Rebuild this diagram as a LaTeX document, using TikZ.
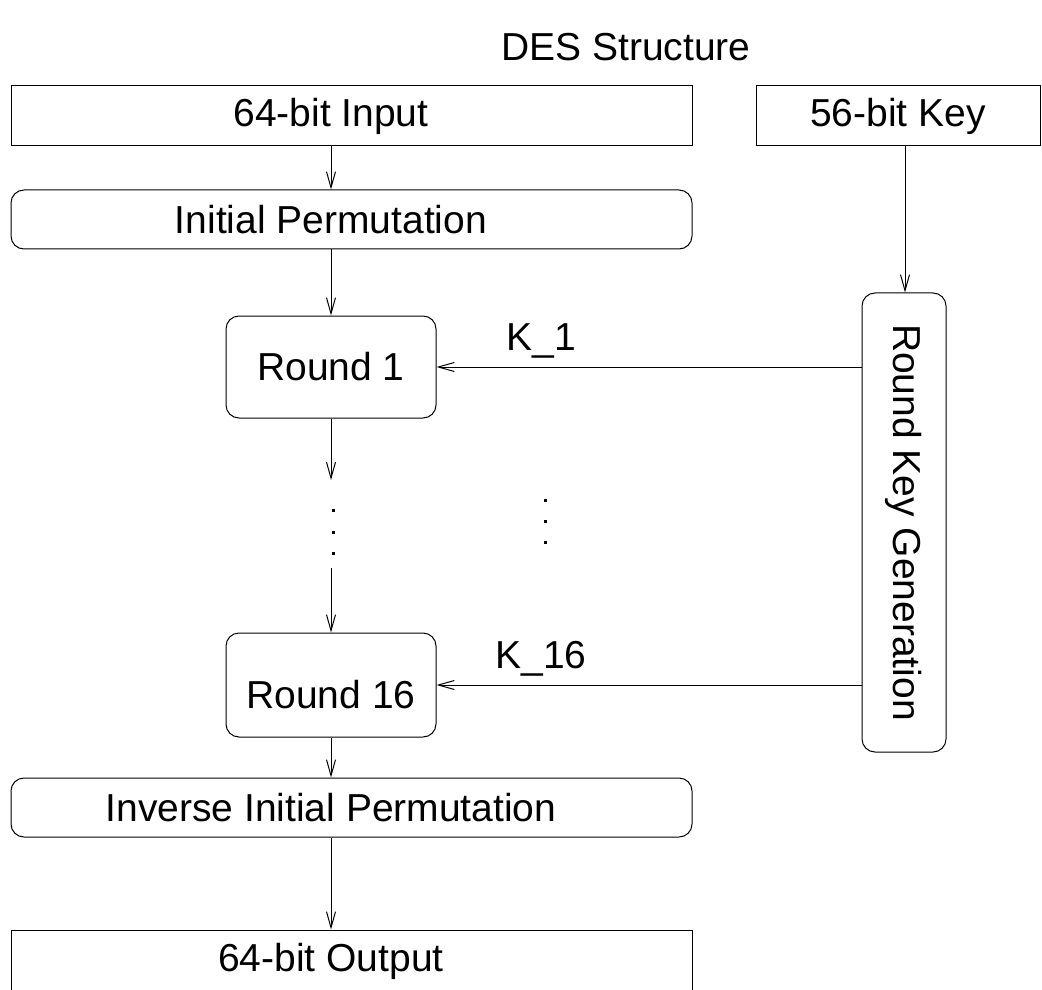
\documentclass[tikz,border=0pt]{standalone}
\usepackage{fontspec}
\setmainfont{Liberation Sans}
\usetikzlibrary{arrows.meta}

\begin{document}
\begin{tikzpicture}[
    x=0.5pt, y=-0.5pt, % one unit is one pixel of the layout, y runs down
    every node/.style={font=\fontsize{19.5}{23}\selectfont},
    box/.style={draw, line width=0.5pt, inner sep=0pt},
    round box/.style={box, rounded corners=6.5pt},
    key label/.style={inner sep=0pt, above=4pt},
    flow/.style={line width=0.5pt, -{Straight Barb[length=8pt, width=4.5pt, line width=0.5pt]}}
]

    \useasboundingbox (0,0) rectangle (1042,989);

    % --- 1. COLUMNS OF THE FLOW ---
    \def\colL{331}
    \def\colR{905}
    \coordinate (colL) at (\colL,0);
    \coordinate (colR) at (\colR,0);

    % --- 2. TITLE ---
    \node (title) at (626,47) {DES Structure};

    % --- 3. DATA PATH (left column) ---
    \node[box, minimum width=340.5pt, minimum height=30pt,
          label={[xshift=-10.25pt]center:64-bit Input}] (input) at (351.5,116) {};
    \node[round box, minimum width=340.5pt, minimum height=29.5pt,
          label={[xshift=-10.25pt]center:Initial Permutation}] (ip) at (351.5,219.5) {};
    \node[round box, minimum width=105pt, minimum height=51pt,
          label={center:Round 1}] (round1) at (\colL,367) {};
    \node[round box, minimum width=105pt, minimum height=52pt,
          label={[yshift=-5pt]center:Round 16}] (round16) at (\colL,685) {};
    \node[round box, minimum width=340.5pt, minimum height=29.5pt,
          label={[xshift=-10.25pt]center:Inverse Initial Permutation}] (iip) at (351.5,807.5) {};
    \node[box, minimum width=340.5pt, minimum height=31pt,
          label={[xshift=-10.25pt]center:64-bit Output}] (output) at (351.5,961) {};

    % --- 4. KEY PATH (right column) ---
    \node[box, minimum width=142pt, minimum height=30pt,
          label={center:56-bit Key}] (key) at (898,116) {};
    \node[round box, minimum width=42pt, minimum height=229.5pt,
          label={[rotate=-90]center:Round Key Generation}] (keygen) at (904,522.5) {};

    % --- 5. CONNECTORS ---
    \coordinate (dotsTop) at (\colL,480);
    \coordinate (dotsBot) at (\colL,568);
    \draw[flow] (colL |- input.south) -- (colL |- ip.north);
    \draw[flow] (colL |- ip.south) -- (round1.north);
    \draw[flow] (round1.south) -- (dotsTop);
    \draw[flow] (dotsBot) -- (round16.north);
    \draw[flow] (round16.south) -- (colL |- iip.north);
    \draw[flow] (colL |- iip.south) -- (colL |- output.north);
    \draw[flow] (colR |- key.south) -- (colR |- keygen.north);

    \draw[flow] (keygen.west |- round1.east) -- (round1.east)
        node[pos=0.754, key label] (k1) {K\_1};
    \draw[flow] (keygen.west |- round16.east) -- (round16.east)
        node[pos=0.754, key label] (k16) {K\_16};

    % Dots for the rounds left out
    \foreach \y in {510,532,553} \fill (\colL+2,\y) ++(-1.5,-1.5) rectangle ++(3,3);
    \foreach \y in {500,521,542} \fill (545,\y) ++(-1.5,-1.5) rectangle ++(3,3);

\end{tikzpicture}
\end{document}
